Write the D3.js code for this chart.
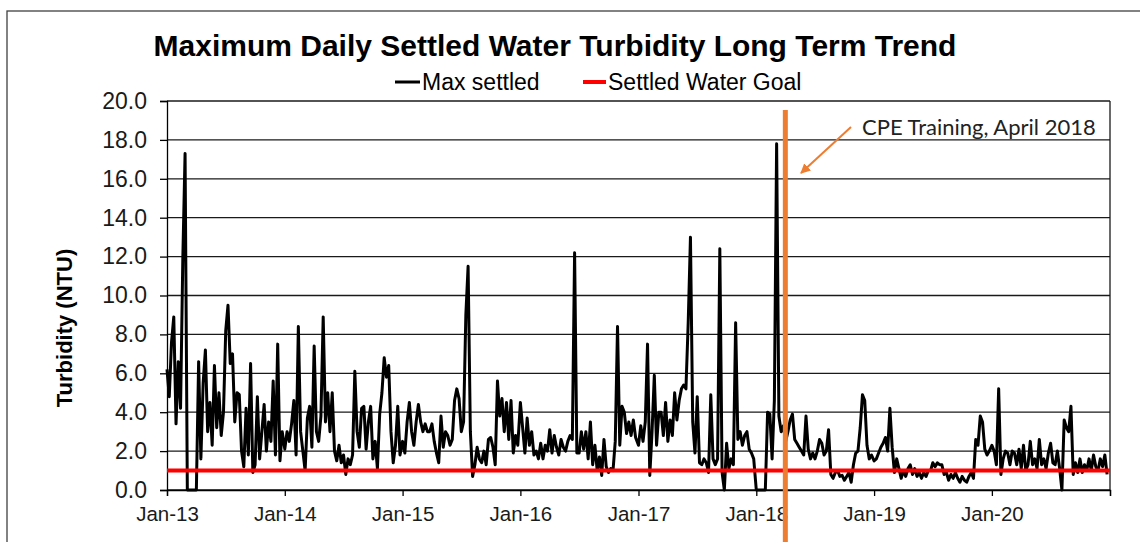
<!DOCTYPE html>
<html>
<head>
<meta charset="utf-8">
<script src="https://cdn.jsdelivr.net/npm/d3@7"></script>
<style>
  body { margin: 0; background: #fff; }
  svg { display: block; font-family: "Liberation Sans", Arial, sans-serif; }
</style>
</head>
<body>
<div id="chart"></div>
<script>
// weekly max settled turbidity (NTU), one array per year, 52 readings each
const max2013 = [6.2, 4.8, 7.6, 8.9, 3.4, 6.6, 4.2, 11.9, 17.3, 0, 0, 0, 0, 0, 6.6, 1.6, 5.5, 7.2, 3.0, 4.5,
  2.3, 6.4, 3.2, 5.0, 2.8, 4.0, 8.2, 9.5, 6.5, 7.0, 3.5, 5.0, 4.9, 2.0, 1.2, 4.2, 1.8, 6.5, 0.9, 1.3,
  4.8, 1.6, 3.0, 4.4, 2.0, 3.5, 2.5, 5.6, 1.8, 7.5, 1.5, 3.0];
const max2014 = [2.1, 3.0, 2.5, 3.4, 4.6, 1.8, 8.4, 3.0, 2.0, 1.0, 3.7, 4.3, 2.2, 7.4, 3.0, 2.5, 3.8, 8.9, 3.5, 5.0,
  3.0, 5.0, 2.0, 1.5, 2.3, 1.4, 1.8, 0.8, 1.6, 1.3, 1.8, 6.1, 3.0, 2.2, 4.2, 4.3, 2.1, 3.5, 4.3, 1.6,
  2.5, 1.1, 3.9, 5.0, 6.8, 5.8, 6.4, 3.0, 1.4, 2.3, 4.3, 1.8];
const max2015 = [2.5, 1.9, 3.5, 4.5, 3.0, 2.3, 3.5, 4.4, 3.5, 3.0, 3.4, 3.0, 3.0, 3.4, 2.5, 1.9, 1.4, 3.8, 2.2, 3.0,
  2.8, 2.3, 2.6, 4.6, 5.2, 4.7, 3.0, 3.5, 9.0, 11.5, 3.0, 0.7, 1.3, 2.2, 1.6, 1.4, 2.0, 1.3, 2.6, 2.7,
  2.2, 1.3, 5.6, 3.8, 4.7, 3.0, 4.5, 2.6, 4.6, 1.9, 2.8, 2.3];
const max2016 = [4.5, 3.2, 1.9, 3.7, 2.3, 3.0, 1.8, 2.0, 1.6, 2.4, 1.6, 2.3, 2.0, 3.1, 1.9, 2.8, 2.2, 1.8, 2.6, 2.2,
  2.0, 2.5, 2.8, 2.6, 12.2, 1.9, 1.9, 3.0, 2.1, 3.0, 1.6, 3.5, 1.3, 2.3, 1.0, 1.7, 0.75, 2.6, 1.2, 0.9,
  1.1, 1.0, 2.5, 8.4, 2.3, 4.3, 4.0, 2.9, 3.5, 2.8, 3.6, 2.7];
const max2017 = [2.3, 3.3, 2.5, 3.5, 7.5, 0.75, 3.0, 5.9, 2.3, 4.0, 4.0, 2.8, 4.5, 2.5, 3.6, 2.8, 5.0, 3.6, 4.6, 5.2,
  5.4, 5.2, 8.6, 13.0, 3.5, 1.9, 4.8, 1.4, 1.3, 1.6, 1.4, 0.9, 4.9, 1.6, 1.3, 1.6, 12.4, 0.9, 0, 2.4,
  1.1, 1.6, 1.3, 8.6, 2.6, 3.0, 2.3, 2.8, 3.0, 2.1, 1.9, 1.6];
const max2018 = [0, 0, 0, 0, 0, 4.0, 3.9, 1.6, 4.6, 17.8, 3.8, 3.0, 3.3, 2.5, 3.0, 3.6, 3.9, 2.6, 2.4, 2.2,
  2.0, 1.8, 3.8, 2.1, 1.6, 1.9, 1.6, 2.0, 2.6, 2.4, 1.8, 2.0, 3.1, 0.8, 0.6, 0.9, 1.0, 0.7, 0.75, 0.5,
  0.7, 0.9, 0.4, 1.3, 1.9, 2.0, 3.2, 4.9, 4.6, 2.3, 1.6, 1.8];
const max2019 = [1.5, 1.6, 1.9, 2.2, 2.4, 2.7, 2.0, 4.2, 2.2, 0.9, 1.6, 1.1, 0.6, 1.0, 0.7, 1.1, 1.3, 0.8, 1.1, 0.7,
  0.9, 0.6, 0.9, 0.7, 1.0, 1.0, 1.4, 1.2, 1.4, 1.3, 1.3, 0.8, 0.9, 0.5, 0.8, 0.6, 0.9, 0.6, 0.4, 0.7,
  0.5, 0.4, 0.7, 0.9, 0.6, 2.6, 2.3, 3.8, 3.5, 2.1, 1.8, 2.0];
const max2020 = [2.3, 2.0, 1.3, 5.2, 0.8, 1.6, 2.0, 1.9, 1.3, 2.0, 1.9, 1.3, 2.1, 1.1, 2.3, 1.0, 1.3, 2.5, 1.3, 1.6,
  1.1, 2.6, 1.3, 1.6, 1.1, 1.9, 2.4, 1.4, 1.3, 2.0, 1.1, 0, 3.6, 3.2, 3.0, 4.3, 0.8, 1.4, 0.9, 1.6,
  0.9, 1.3, 1.0, 1.6, 1.0, 1.8, 1.2, 1.0, 1.6, 1.2, 1.8, 0.8];

const seriesYears = [2013, 2014, 2015, 2016, 2017, 2018, 2019, 2020];
const seriesValues = [max2013, max2014, max2015, max2016, max2017, max2018, max2019, max2020];

const settledGoal = 1.0;
const yTicks = [0, 2, 4, 6, 8, 10, 12, 14, 16, 18, 20];
const xTickYears = [2013, 2014, 2015, 2016, 2017, 2018, 2019, 2020, 2021];
const xTickLabels = ["Jan-13", "Jan-14", "Jan-15", "Jan-16", "Jan-17", "Jan-18", "Jan-19", "Jan-20", ""];
const trainingDate = new Date(2018, 3, 1);
const trainingLabel = "CPE Training, April 2018";

// build a dated table from the weekly arrays
const data = [];
seriesYears.forEach((yr, k) => {
  seriesValues[k].forEach((v, i) => {
    data.push({ date: new Date(yr, 0, 1 + 7 * i), value: v });
  });
});

const W = 1140, H = 542;
const plot = { left: 167, right: 1110, top: 101, bottom: 490 };

const svg = d3.select("#chart").append("svg")
  .attr("width", W)
  .attr("height", H);

const x = d3.scaleTime()
  .domain([new Date(2013, 0, 1), new Date(2021, 0, 1)])
  .range([plot.left, plot.right]);

const y = d3.scaleLinear()
  .domain([0, 20])
  .range([plot.bottom, plot.top]);

// outer chart frame
svg.append("rect")
  .attr("x", 7).attr("y", 11)
  .attr("width", 1200).attr("height", 600)
  .attr("fill", "none")
  .attr("stroke", "#404040")
  .attr("stroke-width", 1.3);

// title
svg.append("text")
  .attr("x", 555).attr("y", 56)
  .attr("text-anchor", "middle")
  .style("font-size", "30px")
  .style("font-weight", "bold")
  .text("Maximum Daily Settled Water Turbidity Long Term Trend");

// legend
const legend = svg.append("g");
legend.append("line")
  .attr("x1", 395).attr("x2", 420).attr("y1", 82).attr("y2", 82)
  .attr("stroke", "#000").attr("stroke-width", 3);
legend.append("text")
  .attr("x", 422).attr("y", 90)
  .style("font-size", "23px")
  .text("Max settled");
legend.append("line")
  .attr("x1", 583).attr("x2", 606).attr("y1", 82).attr("y2", 82)
  .attr("stroke", "#ff0000").attr("stroke-width", 4);
legend.append("text")
  .attr("x", 608).attr("y", 90)
  .style("font-size", "23px")
  .text("Settled Water Goal");

// gridlines
svg.append("g")
  .selectAll("line")
  .data(yTicks)
  .join("line")
  .attr("x1", plot.left).attr("x2", plot.right)
  .attr("y1", d => y(d)).attr("y2", d => y(d))
  .attr("stroke", "#1a1a1a")
  .attr("stroke-width", 1.3);

// right border of plot area
svg.append("line")
  .attr("x1", plot.right).attr("x2", plot.right)
  .attr("y1", plot.top).attr("y2", plot.bottom)
  .attr("stroke", "#1a1a1a").attr("stroke-width", 1.3);

// y axis
const yAxis = svg.append("g")
  .attr("transform", `translate(${plot.left},0)`)
  .call(d3.axisLeft(y).tickValues(yTicks).tickFormat(d3.format(".1f")).tickSize(7).tickPadding(13));
yAxis.select(".domain").attr("stroke", "#000").attr("stroke-width", 1.3);
yAxis.selectAll(".tick line").attr("stroke", "#000").attr("stroke-width", 1.3);
yAxis.selectAll(".tick text")
  .attr("fill", "#1a1a1a")
  .style("font-size", "23px")
  .style("font-family", "'Liberation Sans', Arial, sans-serif");

// x axis
const xAxis = svg.append("g")
  .attr("transform", `translate(0,${plot.bottom})`)
  .call(d3.axisBottom(x)
    .tickValues(xTickYears.map(yr => new Date(yr, 0, 1)))
    .tickFormat((d, i) => xTickLabels[i])
    .tickSize(6).tickPadding(10));
xAxis.select(".domain").attr("stroke", "#000").attr("stroke-width", 1.3);
xAxis.selectAll(".tick line").attr("stroke", "#000").attr("stroke-width", 1.3);
xAxis.selectAll(".tick text")
  .attr("fill", "#1a1a1a")
  .style("font-size", "20.5px")
  .style("font-family", "'Liberation Sans', Arial, sans-serif");

// y axis title
svg.append("text")
  .attr("transform", "translate(64,328) rotate(-90)")
  .attr("text-anchor", "middle")
  .attr("dominant-baseline", "central")
  .style("font-size", "22px")
  .style("font-weight", "bold")
  .text("Turbidity (NTU)");

// max settled series
const line = d3.line()
  .x(d => x(d.date))
  .y(d => y(d.value));

svg.append("path")
  .datum(data)
  .attr("fill", "none")
  .attr("stroke", "#000")
  .attr("stroke-width", 3)
  .attr("stroke-linejoin", "round")
  .attr("d", line);

// goal line
svg.append("line")
  .attr("x1", plot.left).attr("x2", plot.right)
  .attr("y1", y(settledGoal)).attr("y2", y(settledGoal))
  .attr("stroke", "#ff0000")
  .attr("stroke-width", 4);

// training marker
const orange = "#ed7d31";
svg.append("line")
  .attr("x1", x(trainingDate)).attr("x2", x(trainingDate))
  .attr("y1", 110).attr("y2", H + 10)
  .attr("stroke", orange)
  .attr("stroke-width", 5);

svg.append("defs").append("marker")
  .attr("id", "arrow")
  .attr("viewBox", "0 0 10 10")
  .attr("refX", 9).attr("refY", 5)
  .attr("markerWidth", 5).attr("markerHeight", 5)
  .attr("orient", "auto")
  .append("path")
  .attr("d", "M0,0 L10,5 L0,10 Z")
  .attr("fill", orange);

svg.append("line")
  .attr("x1", 851).attr("y1", 127)
  .attr("x2", 801).attr("y2", 173)
  .attr("stroke", orange)
  .attr("stroke-width", 2)
  .attr("marker-end", "url(#arrow)");

svg.append("text")
  .attr("x", 862).attr("y", 135)
  .style("font-family", "Lato, 'Open Sans', sans-serif")
  .style("font-size", "22px")
  .attr("fill", "#222")
  .text(trainingLabel);
</script>
</body>
</html>
